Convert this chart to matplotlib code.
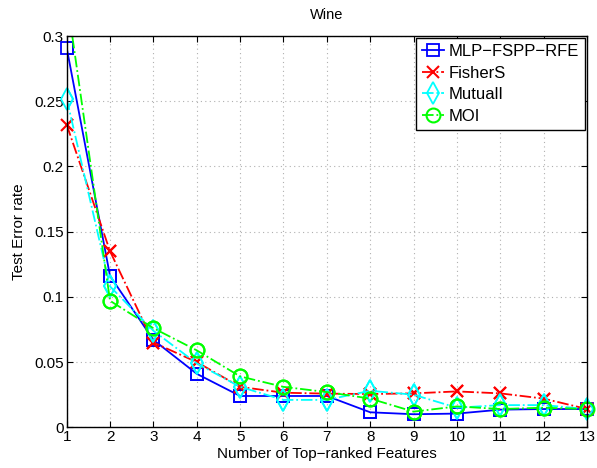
import matplotlib
matplotlib.use("Agg")
import matplotlib.pyplot as plt
import numpy as np
from matplotlib.ticker import FuncFormatter

plt.rcParams['font.family'] = ['Liberation Sans', 'DejaVu Sans']

n_features = list(range(1, 14))
mlp_fspp_rfe = [0.291, 0.116, 0.067, 0.041, 0.024, 0.024, 0.024, 0.0115, 0.0100, 0.0105, 0.0135, 0.014, 0.014]
fisher_s = [0.232, 0.135, 0.065, 0.050, 0.031, 0.0265, 0.0258, 0.0255, 0.026, 0.0275, 0.026, 0.022, 0.014]
mutual_i = [0.252, 0.108, 0.074, 0.049, 0.031, 0.021, 0.021, 0.028, 0.025, 0.015, 0.017, 0.017, 0.014]
moi = [0.33, 0.097, 0.076, 0.059, 0.039, 0.031, 0.027, 0.022, 0.012, 0.016, 0.014, 0.015, 0.014]

Y_MAX = 0.3

fig = plt.figure(figsize=(5.97, 4.68), dpi=100)
ax = fig.add_axes([0.1117, 0.087, 0.8715, 0.836])

series = [
    (mlp_fspp_rfe, 'MLP\u2212FSPP\u2212RFE', dict(color='#0000ff', linestyle='-', marker='s',
                                                  markersize=9, markerfacecolor='none', markeredgewidth=1.3)),
    (fisher_s, 'FisherS', dict(color='#ff0000', linestyle='-.', marker='x',
                               markersize=8, markeredgewidth=1.5)),
    (mutual_i, 'MutualI', dict(color='#00ffff', linestyle='-.', marker='d',
                               markersize=11, markerfacecolor='none', markeredgewidth=1.3)),
    (moi, 'MOI', dict(color='#00ff00', linestyle='-.', marker='o',
                      markersize=10, markerfacecolor='none', markeredgewidth=1.5)),
]

for values, name, style in series:
    ax.plot(n_features, values, linewidth=1.3, label=name, **style)
    # markers on the axis edges stay whole; points above the range are hidden
    vals = np.array(values, dtype=float)
    shown = np.where(vals <= Y_MAX, vals, np.nan)
    mstyle = dict(style)
    mstyle['linestyle'] = 'none'
    ax.plot(n_features, shown, clip_on=False, **mstyle)

ax.set_xlim(1, 13)
ax.set_ylim(0, Y_MAX)
ax.set_xticks(n_features)
ax.set_yticks([0, 0.05, 0.1, 0.15, 0.2, 0.25, 0.3])
ax.yaxis.set_major_formatter(FuncFormatter(lambda v, p: '%g' % v))

ax.grid(True, linestyle=(0, (1, 3)), color='#b0b0b0', linewidth=0.8)
ax.tick_params(direction='in', top=True, right=True, labelsize=11, length=4,
               width=0.8, pad=2)
for s in ax.spines.values():
    s.set_linewidth(1.0)

ax.set_xlabel('Number of Top\u2212ranked Features', fontsize=11, labelpad=2)
ax.set_ylabel('Test Error rate', fontsize=11, labelpad=6)
ax.set_title('Wine', fontsize=10.5, pad=12)

leg = ax.legend(loc='upper right', fontsize=12, frameon=True, fancybox=False,
                framealpha=1, edgecolor='black', borderaxespad=0.12,
                handlelength=1.3, handletextpad=0.3, labelspacing=0.4,
                borderpad=0.35)
leg.get_frame().set_linewidth(1.0)
leg.set_zorder(5)

fig.savefig('out.png', dpi=100)
